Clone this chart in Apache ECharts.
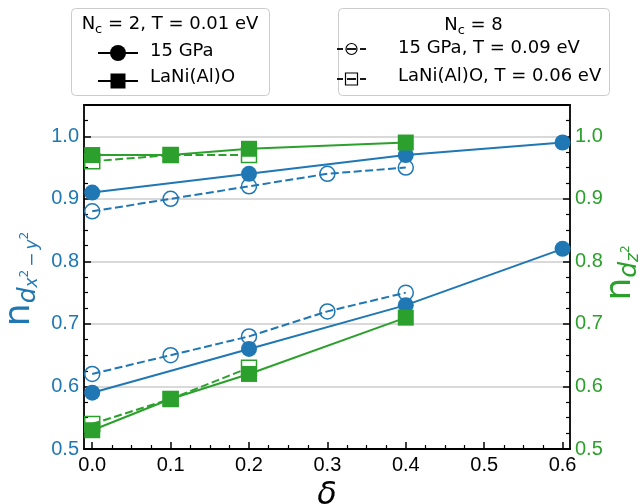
<!DOCTYPE html>
<html><head><meta charset="utf-8">
<script src="https://cdn.jsdelivr.net/npm/echarts@6/dist/echarts.min.js"></script>
<style>html,body{margin:0;padding:0;background:#fff}#c{width:642px;height:504px}</style>
</head><body><div id="c"></div>
<script>
// ---------- data ----------
const xMajorTicks = [0, 0.1, 0.2, 0.3, 0.4, 0.5, 0.6];
const xMinorTicks = [0.025, 0.05, 0.075, 0.125, 0.15, 0.175, 0.225, 0.25, 0.275, 0.325, 0.35, 0.375, 0.425, 0.45, 0.475, 0.525, 0.55, 0.575];
const yMajorTicks = [0.5, 0.6, 0.7, 0.8, 0.9, 1.0];
const yMinorTicks = [0.525, 0.55, 0.575, 0.625, 0.65, 0.675, 0.725, 0.75, 0.775, 0.825, 0.85, 0.875, 0.925, 0.95, 0.975, 1.025];

const gpa15Nc2Delta = [0, 0.2, 0.4, 0.6];
const gpa15Nc2Upper = [0.91, 0.94, 0.97, 0.99];
const gpa15Nc2Lower = [0.59, 0.66, 0.73, 0.82];

const gpa15Nc8Delta = [0, 0.1, 0.2, 0.3, 0.4];
const gpa15Nc8Upper = [0.88, 0.90, 0.92, 0.94, 0.95];
const gpa15Nc8Lower = [0.62, 0.65, 0.68, 0.72, 0.75];

const lnaoNc2Delta = [0, 0.1, 0.2, 0.4];
const lnaoNc2Upper = [0.97, 0.97, 0.98, 0.99];
const lnaoNc2Lower = [0.53, 0.58, 0.62, 0.71];

const lnaoNc8Delta = [0, 0.1, 0.2];
const lnaoNc8Upper = [0.96, 0.97, 0.97];
const lnaoNc8Lower = [0.54, 0.58, 0.63];

// ---------- styling ----------
const BLUE = '#1f77b4', GREEN = '#2ca02c';
const X_MIN = -0.0105, X_MAX = 0.6095, Y_MIN = 0.5, Y_MAX = 1.05;
const TICKFONT = '"Liberation Sans", Arial, sans-serif';
const MATHFONT = '"DejaVu Sans"';

const zip = (xs, ys) => xs.map((x, i) => [x, ys[i]]);

function mkSeries(xs, ys, color, filled, symbol, dashed, yIdx, size) {
  return {
    type: 'line', xAxisIndex: 0, yAxisIndex: yIdx, data: zip(xs, ys),
    symbol: symbol, symbolSize: size, clip: false, silent: true,
    lineStyle: { color: color, width: 2, type: dashed ? [8, 3.5] : 'solid' },
    itemStyle: filled ? { color: color, borderWidth: 0 }
                      : { color: 'rgba(255,255,255,0)', borderColor: color, borderWidth: 1.5 },
    emphasis: { disabled: true }, animation: false
  };
}

const series = [
  mkSeries(gpa15Nc8Delta, gpa15Nc8Upper, BLUE, false, 'circle', true, 0, 15),
  mkSeries(gpa15Nc8Delta, gpa15Nc8Lower, BLUE, false, 'circle', true, 0, 15),
  mkSeries(gpa15Nc2Delta, gpa15Nc2Upper, BLUE, true, 'circle', false, 0, 16),
  mkSeries(gpa15Nc2Delta, gpa15Nc2Lower, BLUE, true, 'circle', false, 0, 16),
  mkSeries(lnaoNc8Delta, lnaoNc8Upper, GREEN, false, 'rect', true, 2, 15),
  mkSeries(lnaoNc8Delta, lnaoNc8Lower, GREEN, false, 'rect', true, 2, 15),
  mkSeries(lnaoNc2Delta, lnaoNc2Upper, GREEN, true, 'rect', false, 2, 16),
  mkSeries(lnaoNc2Delta, lnaoNc2Lower, GREEN, true, 'rect', false, 2, 16)
];

// ---------- text helpers ----------
const mctx = document.createElement('canvas').getContext('2d');
function tw(t, font) { mctx.font = font; return mctx.measureText(t).width; }
function mathText(pieces, color, z) {
  let x = 0; const ch = [];
  for (const p of pieces) {
    const font = (p.it ? 'italic ' : '') + p.fs + 'px ' + MATHFONT;
    ch.push({ type: 'text', x: x, y: (p.dy || 0) - 0.35 * p.fs, silent: true, z: z || 0,
      style: { text: p.t, font: font, fill: color, textAlign: 'left', textVerticalAlign: 'middle', align: 'left', verticalAlign: 'middle' } });
    x += tw(p.t, font) + (p.gap || 0);
  }
  return { children: ch, width: x };
}
function plainText(t, x, baseline, fs) {
  return { type: 'text', x: x, y: baseline - 0.35 * fs, silent: true, z: 11,
    style: { text: t, font: fs + 'px ' + MATHFONT, fill: '#000', textAlign: 'left', textVerticalAlign: 'middle', align: 'left', verticalAlign: 'middle' } };
}

const graphics = [];
// legend box 1
graphics.push({ type: 'rect', shape: { x: 71.5, y: 8.5, width: 198, height: 87, r: 4 }, style: { fill: '#fff', stroke: '#cccccc', lineWidth: 1 }, z: 10, silent: true });
const t1 = mathText([{ t: 'N', fs: 18 }, { t: 'c', fs: 13, dy: 3 }, { t: ' = 2, T = 0.01 eV', fs: 18 }], '#000', 11);
graphics.push({ type: 'group', x: 170 - t1.width / 2, y: 31, children: t1.children, z: 11 });
graphics.push({ type: 'line', shape: { x1: 98, y1: 53, x2: 138, y2: 53 }, style: { stroke: '#000', lineWidth: 2 }, z: 11, silent: true });
graphics.push({ type: 'circle', shape: { cx: 118, cy: 53, r: 8 }, style: { fill: '#000' }, z: 11, silent: true });
graphics.push(plainText('15 GPa', 150, 58, 18));
graphics.push({ type: 'line', shape: { x1: 98, y1: 81, x2: 138, y2: 81 }, style: { stroke: '#000', lineWidth: 2 }, z: 11, silent: true });
graphics.push({ type: 'rect', shape: { x: 110.5, y: 73.5, width: 15, height: 15 }, style: { fill: '#000' }, z: 11, silent: true });
graphics.push(plainText('LaNi(Al)O', 150, 84, 18));

// legend box 2
graphics.push({ type: 'rect', shape: { x: 338.5, y: 8.5, width: 271, height: 87, r: 4 }, style: { fill: '#fff', stroke: '#cccccc', lineWidth: 1 }, z: 10, silent: true });
const t2 = mathText([{ t: 'N', fs: 18 }, { t: 'c', fs: 13, dy: 3 }, { t: ' = 8', fs: 18 }], '#000', 11);
graphics.push({ type: 'group', x: 473.5 - t2.width / 2, y: 32, children: t2.children, z: 11 });
[[49, 'c'], [79, 's']].forEach(([yy, kind]) => {
  [[337, 343], [347, 356], [360, 366]].forEach(([a, b]) => {
    graphics.push({ type: 'line', shape: { x1: a, y1: yy, x2: b, y2: yy }, style: { stroke: '#000', lineWidth: 1.8 }, z: 11, silent: true });
  });
  if (kind === 'c') graphics.push({ type: 'circle', shape: { cx: 351.5, cy: yy, r: 5.5 }, style: { fill: 'none', stroke: '#000', lineWidth: 1.2 }, z: 11, silent: true });
  else graphics.push({ type: 'rect', shape: { x: 345.5, y: yy - 6, width: 12, height: 12 }, style: { fill: 'none', stroke: '#000', lineWidth: 1.2 }, z: 11, silent: true });
});
graphics.push(plainText('15 GPa, T = 0.09 eV', 398, 55, 18));
graphics.push(plainText('LaNi(Al)O, T = 0.06 eV', 398, 83, 18));

// left axis label n_{d_{x^2-y^2}}
const lab1 = mathText([
  { t: 'n', fs: 36 }, { t: 'd', fs: 25, it: true, dy: 5 },
  { t: 'x', fs: 17, it: true, dy: 7 }, { t: '2', fs: 12, dy: -3, gap: 3 },
  { t: '−', fs: 17, dy: 7, gap: 3 },
  { t: 'y', fs: 17, it: true, dy: 7 }, { t: '2', fs: 12, dy: -3 }
], BLUE, 5);
graphics.push({ type: 'group', x: 32, y: 279 + lab1.width / 2, rotation: Math.PI / 2, children: lab1.children });
// right axis label n_{d_{z^2}}
const lab2 = mathText([
  { t: 'n', fs: 36 }, { t: 'd', fs: 25, it: true, dy: 5 },
  { t: 'z', fs: 17, it: true, dy: 7 }, { t: '2', fs: 12, dy: -3 }
], GREEN, 5);
graphics.push({ type: 'group', x: 633, y: 273 + lab2.width / 2, rotation: Math.PI / 2, children: lab2.children });

// ---------- axes ----------
const AXLINE = { show: true, onZero: false, lineStyle: { color: '#000', width: 1.8 } };
const NOLINE = { show: false, onZero: false };
const fmt = v => Number(v).toFixed(1);

const option = {
  animation: false,
  backgroundColor: '#fff',
  grid: { left: 84, right: 72, top: 105, bottom: 55, containLabel: false, outerBoundsMode: 'none' },
  xAxis: [
    { type: 'value', position: 'bottom', min: X_MIN, max: X_MAX, axisLine: AXLINE,
      axisTick: { show: true, inside: true, length: 7, lineStyle: { color: '#000', width: 1.5 }, customValues: xMajorTicks },
      axisLabel: { show: true, customValues: xMajorTicks, formatter: fmt, color: '#000', fontSize: 20, fontFamily: TICKFONT, margin: 6 },
      splitLine: { show: false },
      name: 'δ', nameLocation: 'middle', nameGap: 19,
      nameTextStyle: { fontSize: 32, fontStyle: 'italic', fontFamily: MATHFONT, color: '#000' } },
    { type: 'value', position: 'bottom', min: X_MIN, max: X_MAX, axisLine: NOLINE,
      axisTick: { show: true, inside: true, length: 4, lineStyle: { color: '#000', width: 1.2 }, customValues: xMinorTicks },
      axisLabel: { show: false }, splitLine: { show: false } },
    { type: 'value', position: 'top', min: X_MIN, max: X_MAX, axisLine: AXLINE,
      axisTick: { show: false }, axisLabel: { show: false }, splitLine: { show: false } }
  ],
  yAxis: [
    { type: 'value', position: 'left', min: Y_MIN, max: Y_MAX, axisLine: AXLINE,
      axisTick: { show: true, inside: true, length: 7, lineStyle: { color: '#000', width: 1.5 }, customValues: yMajorTicks },
      axisLabel: { show: true, customValues: yMajorTicks, formatter: fmt, color: BLUE, fontSize: 20, fontFamily: TICKFONT, margin: 5 },
      splitLine: { show: true, lineStyle: { color: '#cccccc', width: 1.5 } } },
    { type: 'value', position: 'left', min: Y_MIN, max: Y_MAX, axisLine: NOLINE,
      axisTick: { show: true, inside: true, length: 4, lineStyle: { color: '#000', width: 1.2 }, customValues: yMinorTicks },
      axisLabel: { show: false }, splitLine: { show: false } },
    { type: 'value', position: 'right', min: Y_MIN, max: Y_MAX, axisLine: AXLINE,
      axisTick: { show: true, inside: true, length: 7, lineStyle: { color: '#000', width: 1.5 }, customValues: yMajorTicks },
      axisLabel: { show: true, customValues: yMajorTicks, formatter: fmt, color: GREEN, fontSize: 20, fontFamily: TICKFONT, margin: 5 },
      splitLine: { show: false } },
    { type: 'value', position: 'right', min: Y_MIN, max: Y_MAX, axisLine: NOLINE,
      axisTick: { show: true, inside: true, length: 4, lineStyle: { color: '#000', width: 1.2 }, customValues: yMinorTicks },
      axisLabel: { show: false }, splitLine: { show: false } }
  ],
  graphic: { elements: graphics },
  series: series
};

const chart = echarts.init(document.getElementById('c'), null, { renderer: 'canvas' });
chart.setOption(option);
</script>
</body></html>
